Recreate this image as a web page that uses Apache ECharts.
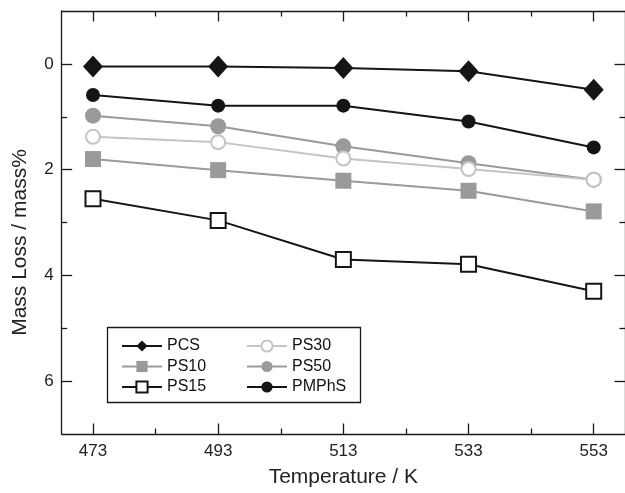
<!DOCTYPE html>
<html>
<head>
<meta charset="utf-8">
<script src="https://cdn.jsdelivr.net/npm/echarts@6/dist/echarts.min.js"></script>
<style>
html,body{margin:0;padding:0;background:#fff;}
#chart{width:625px;height:493px;}
</style>
</head>
<body>
<div id="chart"></div>
<script>
// ---- data ----
const temperatures = [473, 493, 513, 533, 553];
const minorTemps = [483, 503, 523, 543];
const yMajorTicks = [0, 2, 4, 6];
const yMinorTicks = [1, 3, 5];

const PCS   = [0.05, 0.05, 0.08, 0.14, 0.49];
const PS10  = [1.80, 2.01, 2.21, 2.40, 2.79];
const PS15  = [2.55, 2.96, 3.70, 3.79, 4.30];
const PS30  = [1.38, 1.48, 1.79, 1.99, 2.19];
const PS50  = [0.98, 1.18, 1.56, 1.88, 2.19];
const PMPhS = [0.59, 0.79, 0.79, 1.09, 1.58];

const pair = arr => temperatures.map((t, i) => [t, arr[i]]);

const FONT = 'Liberation Sans';
const AX = '#1a1a1a';

function xAx(pos, ticks, len, showLine, showLabel, name) {
  return {
    type: 'value', position: pos, min: 468, max: 558,
    axisLine: {show: showLine, onZero: false, lineStyle: {color: AX, width: 1.3}},
    axisTick: {show: true, inside: true, length: len, customValues: ticks, lineStyle: {color: AX, width: 1.3}},
    axisLabel: {show: showLabel, customValues: temperatures, margin: 9, color: '#222', fontFamily: FONT, fontSize: 17},
    splitLine: {show: false},
    name: name || '', nameLocation: 'middle', nameGap: 33,
    nameTextStyle: {color: '#222', fontFamily: FONT, fontSize: 21}
  };
}
function yAx(pos, ticks, len, showLine, showLabel, name) {
  return {
    type: 'value', position: pos, min: -1, max: 7, inverse: true,
    axisLine: {show: showLine, onZero: false, lineStyle: {color: AX, width: 1.3}},
    axisTick: {show: true, inside: true, length: len, customValues: ticks, lineStyle: {color: AX, width: 1.3}},
    axisLabel: {show: showLabel, customValues: yMajorTicks, margin: 8, color: '#222', fontFamily: FONT, fontSize: 17},
    splitLine: {show: false},
    name: name || '', nameLocation: 'middle', nameGap: 31, nameRotate: 90,
    nameTextStyle: {color: '#222', fontFamily: FONT, fontSize: 21, padding: [0, 40, 0, 0]}
  };
}

function ser(name, data, symbol, size, color, fill, lineColor, bw) {
  return {
    name, type: 'line', data: pair(data), symbol, symbolSize: size,
    xAxisIndex: 0, yAxisIndex: 0,
    lineStyle: {color: lineColor, width: 2},
    itemStyle: {color: fill, borderColor: color, borderWidth: bw},
    emphasis: {disabled: true}
  };
}

const chart = echarts.init(document.getElementById('chart'));
const legendCommon = {
  orient: 'vertical', itemWidth: 40, itemHeight: 14, itemGap: 4.5, padding: 0,
  textStyle: {fontFamily: FONT, fontSize: 16, color: '#111'}, selectedMode: false
};
chart.setOption({
  animation: false,
  backgroundColor: '#fff',
  grid: {left: 61.7, right: -1.4, top: 11, bottom: 58.3},
  xAxis: [
    xAx('bottom', temperatures, 10.5, true, true, 'Temperature / K'),
    xAx('bottom', minorTemps, 5.5, false, false),
    xAx('top', temperatures, 10.5, true, false),
    xAx('top', minorTemps, 5.5, false, false)
  ],
  yAxis: [
    yAx('left', yMajorTicks, 10.5, true, true, 'Mass Loss / mass%'),
    yAx('left', yMinorTicks, 5.5, false, false),
    yAx('right', yMajorTicks, 10.5, true, false),
    yAx('right', yMinorTicks, 5.5, false, false)
  ],
  legend: [
    Object.assign({left: 121, top: 338, data: ['PCS', 'PS10', 'PS15']}, legendCommon),
    Object.assign({left: 246, top: 338, data: ['PS30', 'PS50', 'PMPhS']}, legendCommon)
  ],
  graphic: [{
    type: 'rect', left: 105, top: 325, z: 0,
    shape: {width: 253, height: 75},
    style: {fill: 'none', stroke: '#1a1a1a', lineWidth: 1.3}
  }],
  series: [
    ser('PS15', PS15, 'rect', 15, '#151515', '#fff', '#151515', 2),
    ser('PS10', PS10, 'rect', 16, '#9a9a9a', '#9a9a9a', '#9a9a9a', 0),
    ser('PS50', PS50, 'circle', 16, '#9a9a9a', '#9a9a9a', '#9a9a9a', 0),
    ser('PS30', PS30, 'circle', 14, '#c4c4c4', '#fff', '#c4c4c4', 2),
    ser('PMPhS', PMPhS, 'circle', 14, '#151515', '#151515', '#151515', 0),
    ser('PCS', PCS, 'diamond', [20, 22], '#151515', '#151515', '#151515', 0)
  ]
});
</script>
</body>
</html>
